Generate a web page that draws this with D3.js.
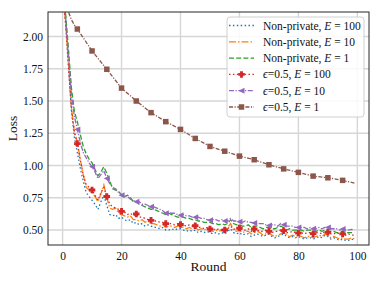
<!DOCTYPE html>
<html>
<head>
<meta charset="utf-8">
<script src="https://cdn.jsdelivr.net/npm/d3@7"></script>
<style>
  body { margin: 0; background: #fff; }
  svg { display: block; }
</style>
</head>
<body>
<svg id="chart"></svg>
<script>
const rounds = d3.range(100);

const nonPrivE100 = [2.40, 2.15, 1.78, 1.42, 1.22, 1.10, 0.98, 0.88, 0.79, 0.76,
  0.73, 0.70, 0.66, 0.72, 0.77, 0.69, 0.62, 0.61, 0.62, 0.59,
  0.60, 0.58, 0.57, 0.58, 0.55, 0.56, 0.54, 0.55, 0.53, 0.54,
  0.53, 0.52, 0.52, 0.51, 0.52, 0.50, 0.50, 0.51, 0.50, 0.51,
  0.51, 0.50, 0.49, 0.50, 0.49, 0.50, 0.48, 0.49, 0.48, 0.49,
  0.48, 0.47, 0.48, 0.47, 0.48, 0.47, 0.49, 0.51, 0.48, 0.47,
  0.48, 0.46, 0.47, 0.47, 0.45, 0.46, 0.47, 0.46, 0.45, 0.46,
  0.47, 0.45, 0.44, 0.45, 0.46, 0.47, 0.45, 0.44, 0.45, 0.44,
  0.45, 0.44, 0.43, 0.44, 0.44, 0.43, 0.44, 0.45, 0.44, 0.46,
  0.45, 0.43, 0.44, 0.43, 0.42, 0.43, 0.42, 0.42, 0.43, 0.42];

const nonPrivE10 = [2.38, 2.12, 1.80, 1.45, 1.26, 1.18, 1.05, 0.93, 0.83, 0.81,
  0.79, 0.76, 0.72, 0.78, 0.85, 0.75, 0.67, 0.66, 0.67, 0.63,
  0.62, 0.61, 0.60, 0.61, 0.58, 0.58, 0.57, 0.58, 0.56, 0.57,
  0.55, 0.55, 0.54, 0.53, 0.54, 0.52, 0.53, 0.53, 0.52, 0.53,
  0.53, 0.52, 0.51, 0.52, 0.51, 0.52, 0.50, 0.51, 0.50, 0.51,
  0.50, 0.49, 0.50, 0.49, 0.50, 0.49, 0.52, 0.55, 0.50, 0.49,
  0.50, 0.48, 0.49, 0.49, 0.47, 0.48, 0.49, 0.48, 0.46, 0.47,
  0.48, 0.46, 0.45, 0.46, 0.47, 0.49, 0.46, 0.45, 0.46, 0.45,
  0.46, 0.45, 0.44, 0.45, 0.45, 0.44, 0.45, 0.46, 0.45, 0.47,
  0.46, 0.44, 0.45, 0.44, 0.43, 0.44, 0.43, 0.43, 0.44, 0.43];

const nonPrivE1 = [2.40, 2.18, 1.90, 1.60, 1.42, 1.34, 1.24, 1.15, 1.09, 1.05,
  1.02, 0.97, 0.92, 0.95, 0.99, 0.94, 0.88, 0.82, 0.81, 0.80,
  0.77, 0.76, 0.77, 0.75, 0.72, 0.72, 0.70, 0.69, 0.68, 0.67,
  0.66, 0.66, 0.65, 0.64, 0.63, 0.62, 0.63, 0.62, 0.61, 0.60,
  0.60, 0.60, 0.59, 0.59, 0.58, 0.58, 0.57, 0.57, 0.56, 0.56,
  0.56, 0.55, 0.55, 0.54, 0.55, 0.54, 0.55, 0.58, 0.55, 0.54,
  0.54, 0.53, 0.53, 0.54, 0.52, 0.53, 0.53, 0.52, 0.51, 0.52,
  0.52, 0.51, 0.51, 0.52, 0.53, 0.52, 0.50, 0.51, 0.50, 0.50,
  0.50, 0.50, 0.49, 0.50, 0.50, 0.49, 0.49, 0.50, 0.49, 0.50,
  0.49, 0.49, 0.49, 0.48, 0.48, 0.49, 0.48, 0.48, 0.48, 0.48];

const dpE100 = [2.36, 2.10, 1.76, 1.44, 1.26, 1.17, 1.04, 0.93, 0.85, 0.83,
  0.81, 0.77, 0.73, 0.79, 0.83, 0.76, 0.70, 0.68, 0.67, 0.66,
  0.645, 0.64, 0.62, 0.63, 0.61, 0.625, 0.60, 0.60, 0.59, 0.58,
  0.575, 0.57, 0.57, 0.56, 0.56, 0.55, 0.55, 0.55, 0.54, 0.55,
  0.543, 0.54, 0.53, 0.54, 0.53, 0.533, 0.52, 0.52, 0.51, 0.52,
  0.508, 0.51, 0.50, 0.51, 0.50, 0.50, 0.51, 0.53, 0.51, 0.50,
  0.515, 0.50, 0.50, 0.51, 0.49, 0.508, 0.50, 0.49, 0.49, 0.50,
  0.49, 0.48, 0.49, 0.49, 0.50, 0.495, 0.48, 0.48, 0.49, 0.48,
  0.477, 0.48, 0.47, 0.48, 0.48, 0.472, 0.48, 0.48, 0.47, 0.49,
  0.482, 0.47, 0.47, 0.48, 0.47, 0.47, 0.46, 0.47, 0.46, 0.46];

const dpE10 = [2.38, 2.15, 1.86, 1.55, 1.38, 1.28, 1.18, 1.10, 1.06, 1.02,
  0.99, 0.95, 0.90, 0.93, 0.96, 0.90, 0.86, 0.83, 0.82, 0.79,
  0.77, 0.77, 0.76, 0.74, 0.73, 0.72, 0.72, 0.70, 0.70, 0.69,
  0.68, 0.68, 0.67, 0.66, 0.65, 0.63, 0.64, 0.63, 0.63, 0.62,
  0.615, 0.62, 0.61, 0.61, 0.60, 0.60, 0.60, 0.59, 0.59, 0.58,
  0.575, 0.58, 0.58, 0.57, 0.58, 0.57, 0.57, 0.59, 0.57, 0.57,
  0.565, 0.56, 0.57, 0.56, 0.56, 0.555, 0.55, 0.55, 0.55, 0.54,
  0.535, 0.54, 0.54, 0.53, 0.55, 0.54, 0.53, 0.53, 0.53, 0.52,
  0.52, 0.52, 0.52, 0.51, 0.52, 0.51, 0.51, 0.52, 0.51, 0.52,
  0.52, 0.51, 0.51, 0.51, 0.50, 0.508, 0.50, 0.50, 0.505, 0.50];

const dpE1Rounds = [0, 1, 2, 3, 4, 5, 10, 15, 20, 25, 30, 35, 40, 45, 50, 55, 60, 65, 70, 75, 80, 85, 90, 95, 99];
const dpE1 = [2.50, 2.30, 2.19, 2.13, 2.09, 2.058, 1.888, 1.746, 1.60, 1.50, 1.41, 1.34, 1.28, 1.21,
  1.148, 1.111, 1.073, 1.045, 1.006, 0.974, 0.947, 0.918, 0.905, 0.885, 0.864];

const xTicks = [0, 20, 40, 60, 80, 100];
const yTicks = [0.50, 0.75, 1.00, 1.25, 1.50, 1.75, 2.00];

const series = [
  {label: "Non-private", e: "100", rounds: rounds, values: nonPrivE100, color: "#1f77b4", dash: "1.5,2.4", marker: null},
  {label: "Non-private", e: "10", rounds: rounds, values: nonPrivE10, color: "#ff7f0e", dash: "7,2,1.5,2", marker: null},
  {label: "Non-private", e: "1", rounds: rounds, values: nonPrivE1, color: "#2ca02c", dash: "5,2.2", marker: null},
  {label: "dp", e: "100", rounds: rounds, values: dpE100, color: "#d62728", dash: "1.5,2.4", marker: "plus"},
  {label: "dp", e: "10", rounds: rounds, values: dpE10, color: "#9467bd", dash: "5,1.6,1.2,1.6", marker: "tri"},
  {label: "dp", e: "1", rounds: dpE1Rounds, values: dpE1, color: "#8c564b", dash: "4,1.5,1.2,1.5", marker: "square"}
];

const style = ({
  dim: {width: 382, height: 286},
  margin: {left: 48, right: 13, top: 12, bottom: 41},
  font: "'Liberation Serif', 'DejaVu Serif', serif",
  grid: "#d6d6d6",
  spine: "#262626"
});

const W = style.dim.width, H = style.dim.height;
const x = d3.scaleLinear()
  .domain([-4.95, 103.95])
  .range([style.margin.left, W - style.margin.right]);
const y = d3.scaleLinear()
  .domain([0.384, 2.19])
  .range([H - style.margin.bottom, style.margin.top]);

const svg = d3.select("#chart")
  .attr("width", W)
  .attr("height", H)
  .attr("viewBox", [0, 0, W, H])
  .style("font-family", style.font);

svg.append("defs").append("clipPath").attr("id", "plot-clip")
  .append("rect")
  .attr("x", x.range()[0]).attr("y", y.range()[1])
  .attr("width", x.range()[1] - x.range()[0])
  .attr("height", y.range()[0] - y.range()[1]);

// grid
const grid = svg.append("g");
grid.selectAll(".gx").data(xTicks).join("line")
  .attr("x1", d => x(d)).attr("x2", d => x(d))
  .attr("y1", y.range()[0]).attr("y2", y.range()[1])
  .attr("stroke", style.grid).attr("stroke-width", 1.4);
grid.selectAll(".gy").data(yTicks).join("line")
  .attr("y1", d => y(d)).attr("y2", d => y(d))
  .attr("x1", x.range()[0]).attr("x2", x.range()[1])
  .attr("stroke", style.grid).attr("stroke-width", 1.4);

// axes
const xAxis = svg.append("g")
  .attr("transform", `translate(0,${y.range()[0]})`)
  .call(d3.axisBottom(x).tickValues(xTicks).tickSize(0).tickPadding(5).tickFormat(d3.format("d")));
const yAxis = svg.append("g")
  .attr("transform", `translate(${x.range()[0]},0)`)
  .call(d3.axisLeft(y).tickValues(yTicks).tickSize(0).tickPadding(5).tickFormat(d3.format(".2f")));
[xAxis, yAxis].forEach(a => {
  a.select(".domain").remove();
  a.selectAll("text").style("font-family", style.font).style("font-size", "11.5px").attr("fill", "#111");
});
xAxis.selectAll("text").attr("dy", "0.85em");

// lines + markers
const plot = svg.append("g").attr("clip-path", "url(#plot-clip)");

const markerPath = (kind, s) => {
  if (kind === "plus") {
    const a = s / 2, b = s / 4.5;
    return `M${-b},${-a}H${b}V${-b}H${a}V${b}H${b}V${a}H${-b}V${b}H${-a}V${-b}H${-b}Z`;
  }
  if (kind === "tri") {
    const a = s / 2;
    return `M${-a},0L${a},${-a}L${a},${a}Z`;
  }
  const a = s / 2;
  return `M${-a},${-a}H${a}V${a}H${-a}Z`;
};
const markerSize = {plus: 6.5, tri: 6, square: 5.5};

series.forEach(s => {
  const pts = s.rounds.map((r, i) => ({r: r, v: s.values[i]}));
  const line = d3.line()
    .x(d => x(d.r))
    .y(d => y(d.v));
  plot.append("path")
    .datum(pts)
    .attr("d", line)
    .attr("fill", "none")
    .attr("stroke", s.color)
    .attr("stroke-width", 1.3)
    .attr("stroke-dasharray", s.dash);
  if (s.marker) {
    plot.selectAll(null)
      .data(pts.filter(d => d.r % 5 === 0))
      .join("path")
      .attr("transform", d => `translate(${x(d.r)},${y(d.v)})`)
      .attr("d", markerPath(s.marker, markerSize[s.marker]))
      .attr("fill", s.color);
  }
});

// spines
svg.append("rect")
  .attr("x", x.range()[0]).attr("y", y.range()[1])
  .attr("width", x.range()[1] - x.range()[0])
  .attr("height", y.range()[0] - y.range()[1])
  .attr("fill", "none")
  .attr("stroke", style.spine)
  .attr("stroke-width", 1);

// axis labels
svg.append("text")
  .attr("x", (x.range()[0] + x.range()[1]) / 2)
  .attr("y", 271)
  .attr("text-anchor", "middle")
  .style("font-size", "13.5px")
  .attr("fill", "#111")
  .text("Round");
svg.append("text")
  .attr("transform", `translate(17,${(y.range()[0] + y.range()[1]) / 2}) rotate(-90)`)
  .attr("text-anchor", "middle")
  .style("font-size", "13.5px")
  .attr("fill", "#111")
  .text("Loss");

// legend
const legend = svg.append("g").attr("transform", "translate(227,17)");
legend.append("rect")
  .attr("width", 137).attr("height", 100)
  .attr("rx", 3)
  .attr("fill", "#fff").attr("fill-opacity", 0.85)
  .attr("stroke", "#d0d0d0").attr("stroke-width", 1);

series.forEach((s, i) => {
  const ly = 8.5 + i * 16.3;
  const row = legend.append("g").attr("transform", `translate(0,${ly})`);
  row.append("line")
    .attr("x1", 2).attr("x2", 27)
    .attr("stroke", s.color).attr("stroke-width", 1.3)
    .attr("stroke-dasharray", s.dash);
  if (s.marker) {
    row.append("path")
      .attr("transform", "translate(14.5,0)")
      .attr("d", markerPath(s.marker, markerSize[s.marker]))
      .attr("fill", s.color);
  }
  const t = row.append("text")
    .attr("x", 36).attr("dy", "0.35em")
    .style("font-size", "11.5px")
    .attr("fill", "#111");
  if (s.label === "dp") {
    t.append("tspan").style("font-style", "italic").text("\u03f5");
    t.append("tspan").text("=0.5, ");
  } else {
    t.append("tspan").text("Non-private, ");
  }
  t.append("tspan").style("font-style", "italic").text("E");
  t.append("tspan").text(` = ${s.e}`);
});
</script>
</body>
</html>
